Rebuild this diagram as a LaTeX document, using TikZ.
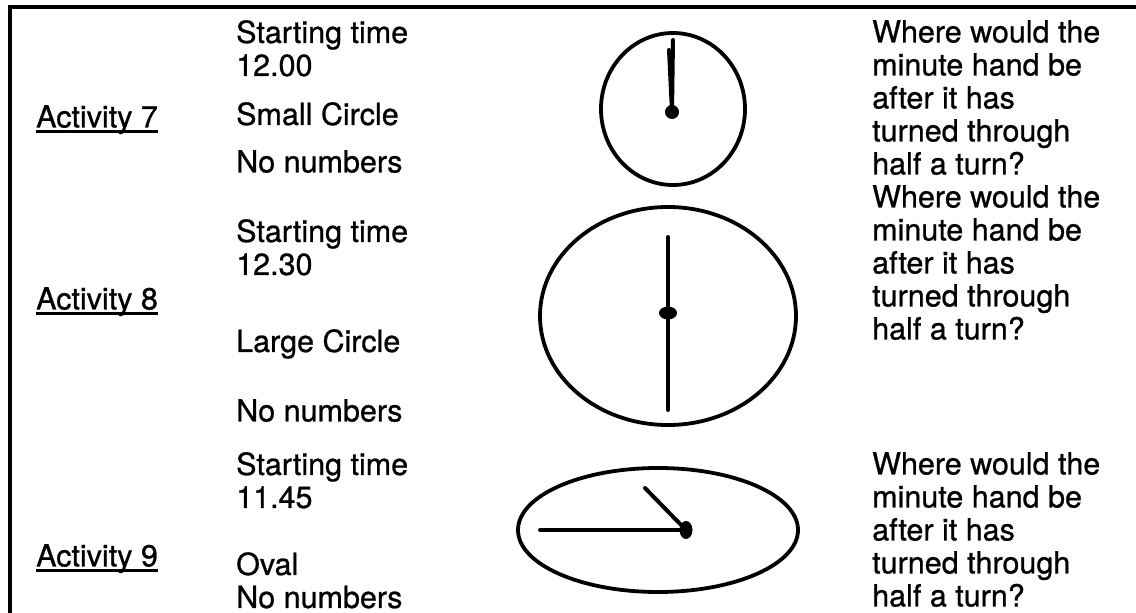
\documentclass[tikz,border=0pt]{standalone}
\usepackage{fontspec}
\setmainfont{TeX Gyre Heros}
\newfontfamily\scanfont{TeX Gyre Heros}[FakeBold=0.8]
\usetikzlibrary{positioning}

\begin{document}
\begin{tikzpicture}[x=1pt,y=-1pt,
    txt/.style={anchor=north west,inner sep=0pt,align=left,font=\scanfont\fontsize{30.5}{33}\selectfont},
    face/.style={line width=3.8pt},
    hand/.style={line width=4pt,line cap=round}]
  \useasboundingbox (0,0) rectangle (1136,613);
  \draw[line width=3.2pt] (10,613) -- (10,7) -- (1136,7);

  % activity labels
  \node[txt] (act7) at (36,105) {Activity 7};
  \node[txt] (act8) at (36,287) {Activity 8};
  \node[txt] (act9) at (36,544) {Activity 9};
  \foreach \n in {act7,act8,act9}
    \draw[line width=2.2pt] ([yshift=-4pt]\n.base west) -- ([yshift=-4pt]\n.base east);

  % settings
  \node[txt] (start7) at (236,20) {Starting time\\12.00};
  \node[txt] (size7) at (236,102) {Small Circle};
  \node[txt] (num7) at (236,150) {No numbers};
  \node[txt] (start8) at (236,219) {Starting time\\12.30};
  \node[txt] (size8) at (236,329) {Large Circle};
  \node[txt] (num8) at (236,399) {No numbers};
  \node[txt] (start9) at (236,452) {Starting time\\11.45};
  \node[txt] (size9) at (236,552) {Oval\\No numbers};

  % questions
  \node[txt] (q7) at (872,20) {Where would the\\minute hand be\\after it has\\turned through\\half a turn?};
  \node[txt] (q8) at (872,185) {Where would the\\minute hand be\\after it has\\turned through\\half a turn?};
  \node[txt] (q9) at (872,452) {Where would the\\minute hand be\\after it has\\turned through\\half a turn?};

  % clock 7
  \coordinate (c7) at (672,112);
  \draw[face] (673,109) ellipse[x radius=72,y radius=76];
  \draw[hand] (c7) -- ++(-3,-62);
  \draw[hand] (c7) -- ++(1,-72);
  \fill (c7) circle[radius=7];

  % clock 8
  \coordinate (c8) at (668,313);
  \draw[face] (668,316) ellipse[x radius=128,y radius=109];
  \draw[hand] (668,237) -- (668,410);
  \fill (c8) ellipse[x radius=9,y radius=6.5];

  % clock 9
  \coordinate (c9) at (686,530);
  \draw[face] (658,530) ellipse[x radius=140,y radius=62];
  \draw[hand] (c9) -- ++(-146,0);
  \draw[hand] (c9) -- ++(-41,-42);
  \fill (c9) ellipse[x radius=6.5,y radius=9];
\end{tikzpicture}
\end{document}
